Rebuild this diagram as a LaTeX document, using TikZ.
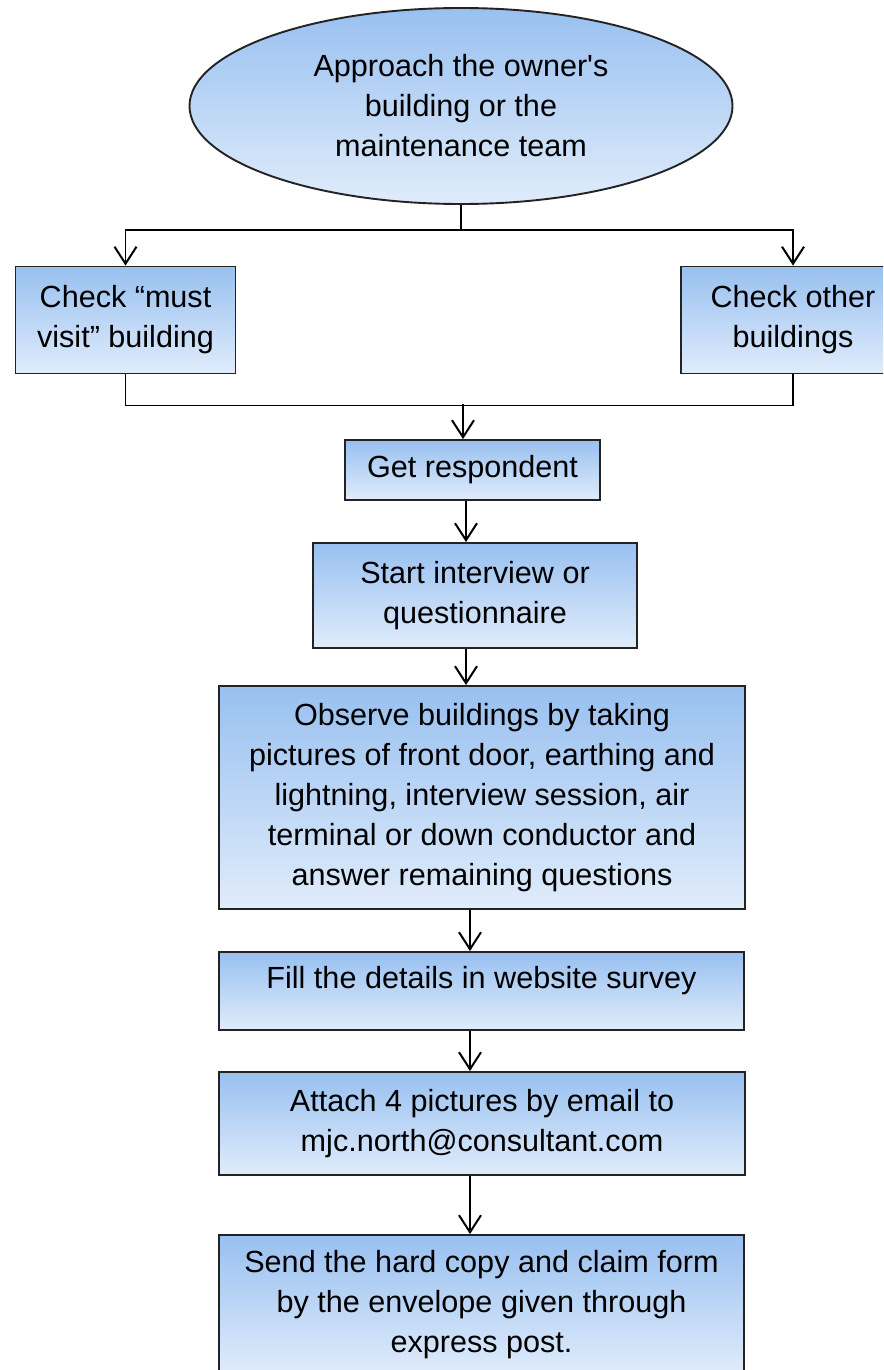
\documentclass[tikz,border=0pt]{standalone}
\usepackage{fontspec}
\setmainfont{Liberation Sans}
\usetikzlibrary{shapes.geometric,arrows.meta}
\definecolor{boxtop}{RGB}{152,192,240}
\definecolor{boxbot}{RGB}{224,236,251}
\definecolor{edge}{RGB}{35,35,35}
\tikzset{
  flowbox/.style={draw=edge, line width=1.9bp, top color=boxtop, bottom color=boxbot,
    rectangle, inner sep=0pt, align=center, font=\fontsize{30.7pt}{40.2pt}\selectfont},
  startell/.style={flowbox, ellipse},
  conn/.style={draw=black, line width=1.9bp},
  arr/.style={conn, -{Straight Barb[length=17bp,width=22bp,line width=2bp]}}
}
\begin{document}
\begin{tikzpicture}[x=1bp,y=-1bp]
\useasboundingbox (0,0) rectangle (883,1370);
\fill[white] (0,0) rectangle (883,1370);
\clip (0,0) rectangle (883,1370);

\node[startell, minimum width=543bp, minimum height=196bp] (el) at (461,106)
  {Approach the owner\textquotesingle s\\building or the\\maintenance team};
\node[flowbox, minimum width=220bp, minimum height=107bp] (lb) at (125.5,320)
  {Check “must\\visit” building};
\node[flowbox, minimum width=224bp, minimum height=107bp] (rb) at (793,320)
  {Check other\\buildings};
\node[flowbox, minimum width=255bp, minimum height=60bp] (gr) at (472.5,470)
  {Get respondent};
\node[flowbox, minimum width=324bp, minimum height=105bp] (si) at (475,595.5)
  {Start interview or\\questionnaire};
\node[flowbox, minimum width=526bp, minimum height=223bp] (ob) at (482,797.5)
  {Observe buildings by taking\\pictures of front door, earthing and\\lightning, interview session, air\\terminal or down conductor and\\answer remaining questions};
\node[flowbox, minimum width=525bp, minimum height=78bp, text depth=28bp] (fi) at (481.5,991)
  {Fill the details in website survey};
\node[flowbox, minimum width=526bp, minimum height=103bp] (at) at (482,1123.5)
  {Attach 4 pictures by email to\\mjc.north@consultant.com};
\node[flowbox, minimum width=525bp, minimum height=140bp] (se) at (481.5,1305)
  {Send the hard copy and claim form\\by the envelope given through\\express post.};

\coordinate (t1) at (461,230);
\draw[conn] (el.south) -- (t1);
\draw[arr] (t1) -| (lb.north);
\draw[arr] (t1) -| (rb.north);
\coordinate (t2) at (463,404);
\draw[conn] (lb.south) -- ++(0,31) -| (rb.south);
\draw[arr] (t2) -- (t2 |- gr.north);
\coordinate (a1) at (466,0);
\draw[arr] (a1 |- gr.south) -- (a1 |- si.north);
\draw[arr] (a1 |- si.south) -- (a1 |- ob.north);
\coordinate (a2) at (470,0);
\draw[arr] (a2 |- ob.south) -- (a2 |- fi.north);
\draw[arr] (a2 |- fi.south) -- (a2 |- at.north);
\draw[arr] (a2 |- at.south) -- (a2 |- se.north);
\end{tikzpicture}
\end{document}
